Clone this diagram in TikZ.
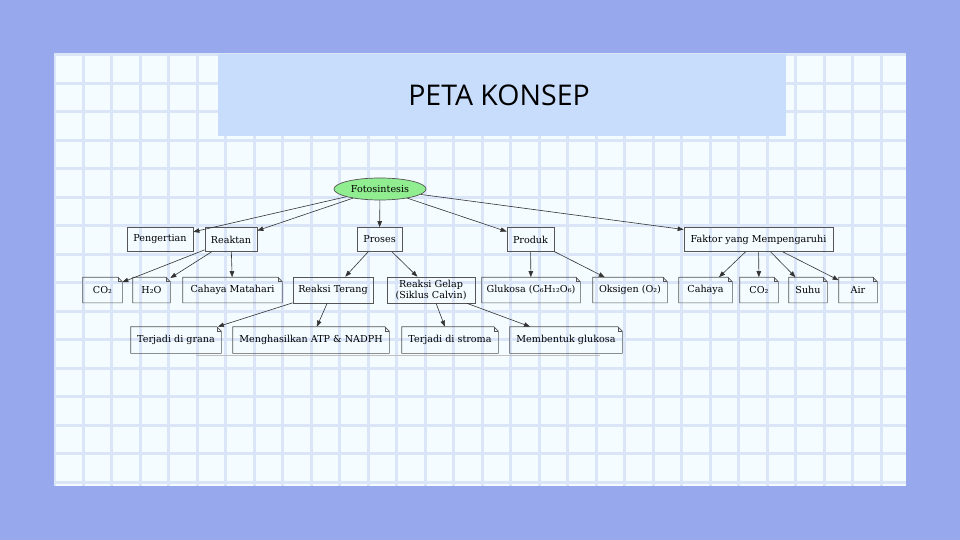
\documentclass[tikz,border=0pt]{standalone}
\usepackage{fontspec}
\setmainfont{DejaVu Serif}
\newfontfamily\judulfont{Open Sans}
\usepackage{tikz}
\usetikzlibrary{shapes.geometric}
\usetikzlibrary{arrows.meta}
\definecolor{latar}{HTML}{98A8EC}
\definecolor{panel}{HTML}{F4FCFF}
\definecolor{kisi}{HTML}{DAE6F8}
\definecolor{judul}{HTML}{C8DCFC}
\definecolor{hijau}{HTML}{90EE90}
\definecolor{tepi}{HTML}{555555}
\tikzset{x=1pt, y=-1pt,
konsep/.style={ % Sets the properties for each box
draw=tepi,
line width=0.7pt,
rectangle,
inner sep=2pt,
minimum height=24pt,
font=\fontsize{9.6}{10}\selectfont},
catatan/.style={ % Note boxes, outline drawn later
konsep,
draw=none,
minimum height=25pt},
inti/.style={
ellipse,
draw=tepi,
line width=0.7pt,
fill=hijau,
minimum width=92pt,
minimum height=22pt,
inner sep=0pt,
font=\fontsize{9.6}{10}\selectfont},
garis/.style={draw=tepi, line width=0.7pt},
every edge/.style={ % Sets the properties for each connector
draw=black!80,
-{Triangle[length=6pt,width=4.5pt]},
line width=0.6pt}}

\begin{document}
\begin{tikzpicture}
\useasboundingbox (0,0) rectangle (960,540);
\fill[latar] (0,0) rectangle (960,540);
\fill[panel] (54,54) rectangle (906,486);
\begin{scope}
\clip (54,54) rectangle (906,486);
\foreach \i in {0,...,29}
  \draw[kisi, line width=3pt] ({54.8+\i*28.5},54) -- ++(0,432);
\foreach \j in {0,...,15}
  \draw[kisi, line width=3pt] (54,{54.8+\j*28.5}) -- ++(852,0);
\end{scope}
\fill[judul] (218,54) rectangle (786,136);
\node[font=\judulfont\fontsize{28.5}{30}\selectfont, text=black] (peta) at (499,95) {PETA KONSEP};

\node[inti] (foto) at (380,189) {Fotosintesis};
\node[konsep, minimum width=66pt] (pengertian) at (160,239.5) {Pengertian};
\node[konsep, minimum width=52pt] (reaktan) at (231,239.5) {Reaktan};
\node[konsep, minimum width=45pt] (proses) at (379.5,239.5) {Proses};
\node[konsep, minimum width=47pt] (produk) at (530.5,239.5) {Produk};
\node[konsep, minimum width=149pt] (faktor) at (758.5,239.5) {Faktor yang Mempengaruhi};

\node[catatan, minimum width=39pt] (co2) at (102.5,290) {CO₂};
\node[catatan, minimum width=37pt] (h2o) at (151.5,290) {H₂O};
\node[catatan, minimum width=99pt] (cahayam) at (232.5,290) {Cahaya Matahari};
\node[konsep, minimum width=80pt, minimum height=26pt] (terang) at (333,290) {Reaksi Terang};
\node[konsep, minimum width=88pt, minimum height=26pt, align=center,
  font=\fontsize{9.6}{9}\selectfont] (gelap) at (431,290) {Reaksi Gelap\\(Siklus Calvin)};
\node[catatan, minimum width=98pt] (glukosa) at (531,290) {Glukosa (C₆H₁₂O₆)};
\node[catatan, minimum width=74pt] (oksigen) at (630,290) {Oksigen (O₂)};
\node[catatan, minimum width=53pt] (cahaya) at (705.5,290) {Cahaya};
\node[catatan, minimum width=38pt] (co2f) at (759,290) {CO₂};
\node[catatan, minimum width=38pt] (suhu) at (808,290) {Suhu};
\node[catatan, minimum width=38pt] (air) at (858,290) {Air};

\node[catatan, minimum width=90pt, minimum height=26pt] (grana) at (176,340) {Terjadi di grana};
\node[catatan, minimum width=156pt, minimum height=26pt] (atp) at (311,340) {Menghasilkan ATP \& NADPH};
\node[catatan, minimum width=96pt, minimum height=26pt] (stroma) at (450,340) {Terjadi di stroma};
\node[catatan, minimum width=112pt, minimum height=26pt] (glukosab) at (566,340) {Membentuk glukosa};

% note outlines with folded corner
\foreach \n in {co2,h2o,cahayam,glukosa,oksigen,cahaya,co2f,suhu,air,grana,atp,stroma,glukosab}{
  \draw[garis] (\n.south west) -- (\n.north west) -- ([xshift=-4.5pt]\n.north east)
    -- ([yshift=-4.5pt]\n.north east) -- (\n.south east) -- cycle;
  \draw[garis, line width=0.5pt] ([xshift=-4.5pt]\n.north east) |- ([yshift=-4.5pt]\n.north east);
}
\draw[black!25, line width=0.8pt] (196,355) -- (600,355);

\draw (foto) edge[] (pengertian) ;
\draw (foto) edge[] (reaktan) ;
\draw (foto) edge[] (proses) ;
\draw (foto) edge[] (produk) ;
\draw (foto) edge[] (faktor) ;
\draw (reaktan) edge[] (co2) ;
\draw (reaktan) edge[] (h2o) ;
\draw (reaktan) edge[] (cahayam) ;
\draw (proses) edge[] (terang) ;
\draw (proses) edge[] (gelap) ;
\draw (terang) edge[] (grana) ;
\draw (terang) edge[] (atp) ;
\draw (gelap) edge[] (stroma) ;
\draw (gelap) edge[] (glukosab) ;
\draw (produk) edge[] (glukosa) ;
\draw (produk) edge[] (oksigen) ;
\draw (faktor) edge[] (cahaya) ;
\draw (faktor) edge[] (co2f) ;
\draw (faktor) edge[] (suhu) ;
\draw (faktor) edge[] (air) ;
\end{tikzpicture}
\end{document}
